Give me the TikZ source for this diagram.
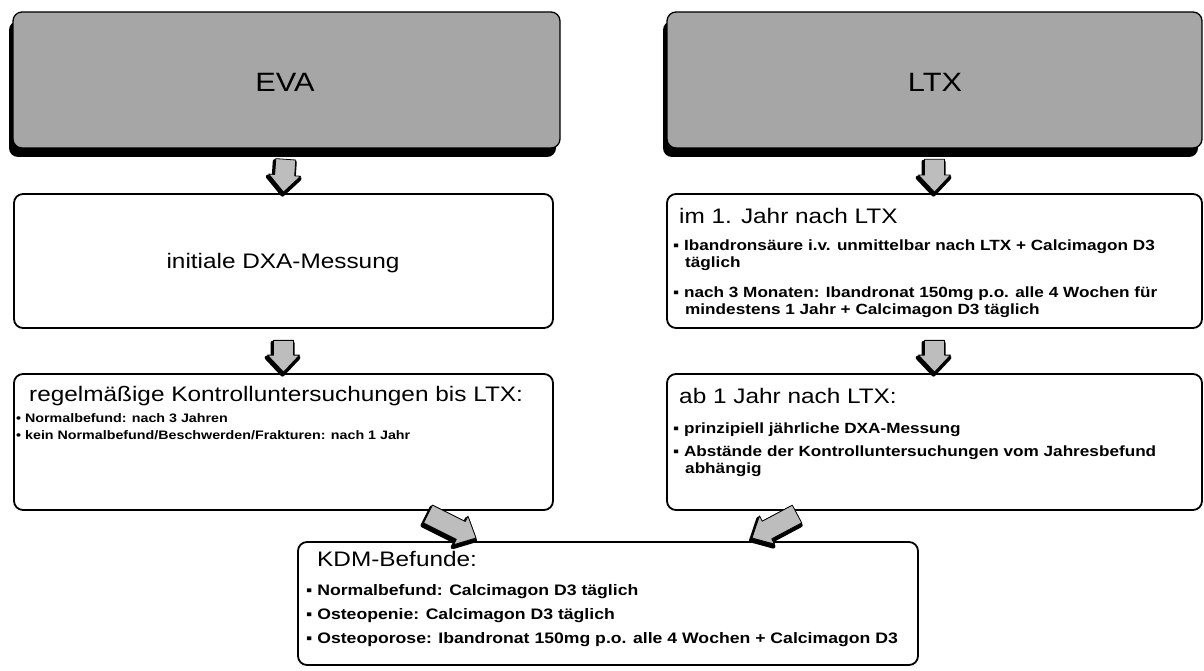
\documentclass[tikz,border=0pt]{standalone}
\usepackage{fontspec}
\setmainfont{Liberation Sans}[FakeStretch=1.16]
\usetikzlibrary{calc,shadows}
\definecolor{boxgray}{HTML}{A6A6A6}
\definecolor{arrgray}{HTML}{BDBDBD}
\newcommand\arrowoutline{($(bas)!10pt!-90:(bae)$) -- ($(bah)!10pt!-90:(bae)$) -- ($(bah)!16pt!-90:(bae)$) -- (bae)
     -- ($(bah)!16pt!90:(bae)$) -- ($(bah)!10pt!90:(bae)$) -- ($(bas)!10pt!90:(bae)$) -- cycle}
\newcommand\blockarrow[2]{%
  \coordinate (bas) at #1;
  \coordinate (bae) at #2;
  \coordinate (bah) at ($(bae)!17pt!(bas)$);
  \begin{scope}[transform canvas={xshift=-1pt,yshift=-2.5pt}]
    \path[arrshadow] \arrowoutline;
  \end{scope}
  \path[arrbody] \arrowoutline;
}
\begin{document}
\begin{tikzpicture}[x=1pt,y=-1pt,
  box/.style={draw, line width=1.8pt, rounded corners=9pt, fill=white, inner sep=0pt},
  graybox/.style={draw, line width=1.3pt, rounded corners=9pt, fill=boxgray, inner sep=0pt,
    drop shadow={shadow xshift=-4pt, shadow yshift=-9pt, fill=black, opacity=1}},
  bigtxt/.style={font=\fontsize{26.5}{30}\selectfont, inner sep=0pt},
  title/.style={font=\fontsize{21}{24}\selectfont, anchor=base west, inner sep=0pt},
  lbul/.style={font=\fontsize{12.3}{14}\selectfont\bfseries, anchor=base west, inner sep=0pt},
  rbul/.style={font=\fontsize{14.8}{17}\selectfont\bfseries, anchor=base west, inner sep=0pt},
  kbul/.style={font=\fontsize{15.2}{18}\selectfont\bfseries, anchor=base west, inner sep=0pt},
  arrshadow/.style={fill=black, draw=black, line width=4pt, line join=round},
  arrbody/.style={fill=arrgray, draw=black, line width=0.8pt, line join=round}
]
\useasboundingbox (0,0) rectangle (1204,671);

% boxes
\node[graybox, minimum width=547pt, minimum height=136pt] (eva) at (286.5,80) {};
\node[graybox, minimum width=535pt, minimum height=136pt] (ltx) at (934.5,80) {};
\node[box, minimum width=539pt, minimum height=134pt] (dxa) at (283.5,261) {};
\node[box, minimum width=539pt, minimum height=136pt] (reg) at (283.5,442) {};
\node[box, minimum width=535pt, minimum height=134pt] (jahr1) at (934.5,261) {};
\node[box, minimum width=535pt, minimum height=136pt] (ab1) at (934.5,442) {};
\node[box, minimum width=620pt, minimum height=123pt] (kdm) at (608,603.5) {};

% texts
\node[bigtxt] (evat) at (285,82) {EVA};
\node[bigtxt] (ltxt) at (935,82) {LTX};
\node[font=\fontsize{21}{24}\selectfont, inner sep=0pt] (dxat) at (283,263) {initiale DXA-Messung};

\node[title] (regt) at (29,401) {regelmäßige Kontrolluntersuchungen bis LTX:};
\node[lbul] (reg1) at (16,422) {• Normalbefund: nach 3 Jahren};
\node[lbul] (reg2) at (16,439) {• kein Normalbefund/Beschwerden/Frakturen: nach 1 Jahr};

\node[title] (j1t) at (679,223) {im 1. Jahr nach LTX};
\node[rbul] (j1a) at (673,250) {▪ Ibandronsäure i.v. unmittelbar nach LTX + Calcimagon D3};
\node[rbul] (j1b) at (685,267) {täglich};
\node[rbul] (j1c) at (673,297) {▪ nach 3 Monaten: Ibandronat 150mg p.o. alle 4 Wochen für};
\node[rbul] (j1d) at (685,314) {mindestens 1 Jahr + Calcimagon D3 täglich};

\node[title] (abt) at (679,403) {ab 1 Jahr nach LTX:};
\node[rbul] (ab1a) at (673,433) {▪ prinzipiell jährliche DXA-Messung};
\node[rbul] (ab1b) at (673,456) {▪ Abstände der Kontrolluntersuchungen vom Jahresbefund};
\node[rbul] (ab1c) at (685,473) {abhängig};

\node[title] (kdmt) at (317,566) {KDM-Befunde:};
\node[kbul] (kdm1) at (306,595) {▪ Normalbefund: Calcimagon D3 täglich};
\node[kbul] (kdm2) at (306,619) {▪ Osteopenie: Calcimagon D3 täglich};
\node[kbul] (kdm3) at (306,643) {▪ Osteoporose: Ibandronat 150mg p.o. alle 4 Wochen + Calcimagon D3};

% arrows
\blockarrow{($(eva.south)!0.24!(dxa.north)$)}{($(dxa.north)+(0,-1)$)}
\blockarrow{($(dxa.south)!0.26!(reg.north)$)}{($(reg.north)+(0,-1)$)}
\blockarrow{($(ltx.south)!0.24!(jahr1.north)$)}{($(jahr1.north)+(0,-1)$)}
\blockarrow{($(jahr1.south)!0.26!(ab1.north)$)}{($(ab1.north)+(0,-1)$)}
\coordinate (la) at (428,514);
\coordinate (lb) at (476,538);
\coordinate (ra) at (797,514);
\coordinate (rb) at (752,538);
\blockarrow{(la)}{(lb)}
\blockarrow{(ra)}{(rb)}
\end{tikzpicture}
\end{document}
